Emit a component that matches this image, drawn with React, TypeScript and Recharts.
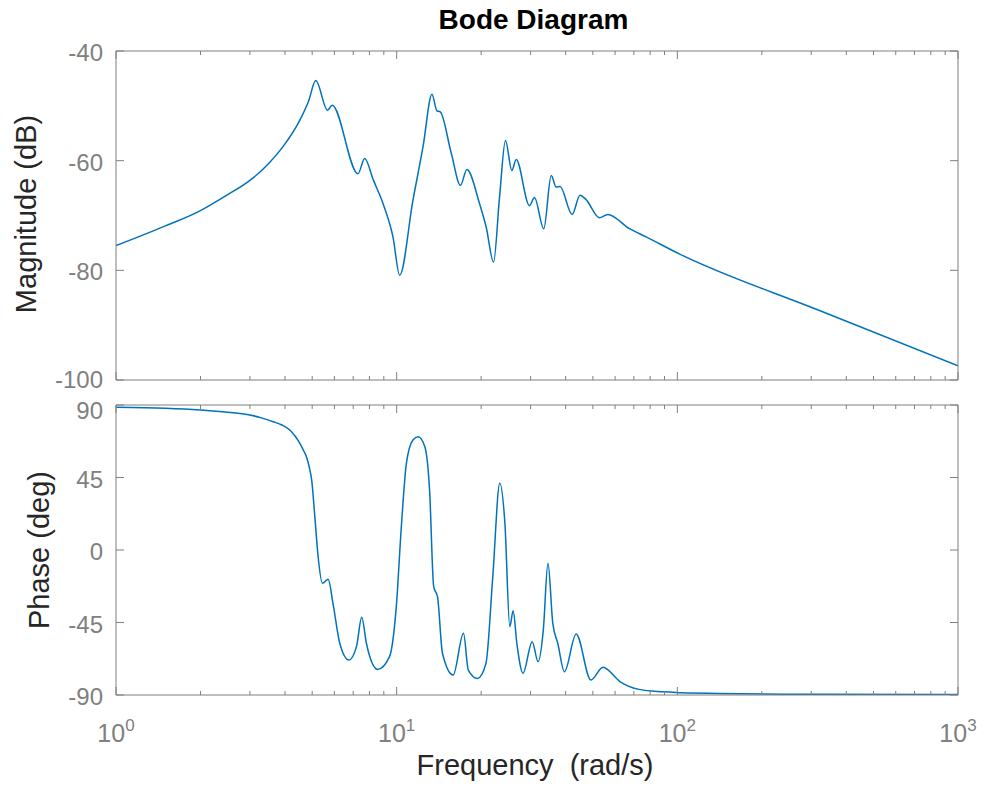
import React from 'react';
import { LineChart, Line, XAxis, YAxis } from 'recharts';

// magnitude response
const magFreq = [
  1, 1.5, 2, 2.5, 3, 3.5, 3.94, 4.52, 4.85, 5.15, 5.67, 5.89, 7.28, 7.69, 8.27, 8.94,
  9.7, 10.25, 11.43, 12.41, 13.36, 13.91, 14.3, 15.66, 16.88, 17.79, 19.73, 20.84,
  22.14, 23.26, 24.42, 25.72, 26.66, 29.73, 30.97, 33.43, 35.54, 37.0, 38.2, 42.2,
  45.0, 47.3, 52.8, 56.5, 67.5, 77.4, 101.6, 316, 1000,
];
const magDb = [
  -75.5, -71.9, -69.1, -66.2, -63.6, -60.5, -57.4, -52.6, -49.2, -45.4, -50.8, -49.9,
  -62.4, -59.6, -63.6, -67.8, -73.9, -80.9, -67.2, -57.5, -47.9, -50.9, -51.1, -58.7,
  -64.5, -61.6, -67.8, -72.1, -78.5, -66.6, -56.3, -61.8, -59.8, -68.2, -66.7, -72.4,
  -62.7, -64.8, -64.7, -69.8, -66.3, -67.1, -70.4, -69.8, -72.4, -73.9, -77.0, -87.2,
  -97.4,
];

// phase response
const phaseFreq = [
  1, 1.5, 1.99, 3.0, 3.3, 3.63, 3.9, 4.16, 4.35, 4.52, 4.65, 4.77, 4.88, 4.98, 5.11,
  5.25, 5.44, 5.7, 5.93, 6.27, 6.76, 7.19, 7.51, 7.8, 8.56, 9.43, 9.95, 10.41, 10.83,
  11.43, 11.92, 12.6, 13.1, 13.55, 13.98, 14.56, 15.9, 17.3, 18.0, 19.4, 20.8, 22.0,
  23.3, 24.3, 25.3, 26.0, 26.8, 28.2, 30.4, 31.9, 33.3, 34.6, 36.0, 37.5, 39.6, 43.6,
  49.2, 54.3, 62.6, 73.0, 88.9, 101.6, 300, 1000,
];
const phaseDeg = [
  88.6, 88.0, 86.9, 83.8, 82.0, 79.6, 77.6, 74.5, 70.6, 66.2, 62.0, 57.9, 51.5, 43.4,
  20.7, -4.2, -20.7, -18.2, -33.1, -57.9, -68.3, -60, -41.8, -57.9, -74.1, -66.2, -37,
  16.6, 53.8, 68.3, 70.3, 64.1, 37.2, -22.8, -29, -64.1, -77.6, -51.7, -74.5, -79.7,
  -70.4, -16.6, 41.4, 16.6, -47.6, -37.7, -57.9, -76.5, -56.9, -69.3, -49.7, -8.3,
  -45.5, -57.9, -75.5, -52.1, -80.7, -72.8, -81.8, -86.5, -88.0, -88.6, -89.5, -89.7,
];

const freqTicks = [
  1, 2, 3, 4, 5, 6, 7, 8, 9,
  10, 20, 30, 40, 50, 60, 70, 80, 90,
  100, 200, 300, 400, 500, 600, 700, 800, 900, 1000,
];
const magTicks = [-100, -80, -60, -40];
const phaseTicks = [-90, -45, 0, 45, 90];

const magData = magFreq.map((w, i) => ({ w, v: magDb[i] }));
const phaseData = phaseFreq.map((w, i) => ({ w, v: phaseDeg[i] }));

const AXIS = '#7f7f7f';
const TICK_TEXT = '#808080';
const LABEL = '#262626';
const LINE = '#0072BD';
const FONT = '"Liberation Sans", Arial, Helvetica, sans-serif';

const isDecade = (v: number) =>
  Math.abs(Math.log10(v) - Math.round(Math.log10(v))) < 1e-9;

// x ticks point into the box; only the decades get a label
const FreqTick = ({ x, y, payload, side, showLabel }: any) => {
  const v = payload.value;
  const major = isDecade(v);
  const len = major ? 8 : 4;
  const dir = side === 'top' ? 1 : -1;
  return (
    <g>
      <line x1={x} y1={y} x2={x} y2={y + dir * len} stroke={AXIS} strokeWidth={1} />
      {showLabel && major && (
        <text x={x} y={y + 47} textAnchor="middle" fill={TICK_TEXT} fontSize={25} fontFamily={FONT}>
          <tspan>10</tspan>
          <tspan dy={-11} fontSize={17}>{Math.round(Math.log10(v))}</tspan>
        </text>
      )}
    </g>
  );
};

const ValueTick = ({ x, y, payload, side, labelDy }: any) => {
  const dir = side === 'right' ? -1 : 1;
  return (
    <g>
      <line x1={x} y1={y} x2={x + dir * 8} y2={y} stroke={AXIS} strokeWidth={1} />
      {side === 'left' && (
        <text
          x={x - 13}
          y={y + labelDy(payload.value)}
          textAnchor="end"
          fill={TICK_TEXT}
          fontSize={24}
          fontFamily={FONT}
        >
          {payload.value}
        </text>
      )}
    </g>
  );
};

const Panel = ({ data, yDomain, yTicks, height, margin, bottomHeight, showLabels, labelDy }: any) => (
  <LineChart width={984} height={height} data={data} margin={margin}>
    <XAxis
      xAxisId="b"
      dataKey="w"
      type="number"
      scale="log"
      domain={[1, 1000]}
      ticks={freqTicks}
      interval={0}
      allowDataOverflow
      height={bottomHeight}
      axisLine={{ stroke: AXIS }}
      tickLine={false}
      tickSize={0}
      tickMargin={0}
      tick={(p: any) => <FreqTick {...p} side="bottom" showLabel={showLabels} />}
    />
    <XAxis
      xAxisId="t"
      orientation="top"
      dataKey="w"
      type="number"
      scale="log"
      domain={[1, 1000]}
      ticks={freqTicks}
      interval={0}
      allowDataOverflow
      height={1}
      axisLine={{ stroke: AXIS }}
      tickLine={false}
      tickSize={0}
      tickMargin={0}
      tick={(p: any) => <FreqTick {...p} side="top" />}
    />
    <YAxis
      yAxisId="l"
      type="number"
      domain={yDomain}
      ticks={yTicks}
      interval={0}
      allowDataOverflow
      width={116}
      axisLine={{ stroke: AXIS }}
      tickLine={false}
      tickSize={0}
      tickMargin={0}
      tick={(p: any) => <ValueTick {...p} side="left" labelDy={labelDy} />}
    />
    <YAxis
      yAxisId="r"
      orientation="right"
      type="number"
      domain={yDomain}
      ticks={yTicks}
      interval={0}
      allowDataOverflow
      width={1}
      axisLine={{ stroke: AXIS }}
      tickLine={false}
      tickSize={0}
      tickMargin={0}
      tick={(p: any) => <ValueTick {...p} side="right" />}
    />
    <Line
      xAxisId="b"
      yAxisId="l"
      dataKey="v"
      type="monotone"
      stroke={LINE}
      strokeWidth={1.5}
      dot={false}
      isAnimationActive={false}
    />
  </LineChart>
);

export default function App() {
  return (
    <div style={{ position: 'absolute', left: 0, top: 0, width: 984, height: 787, background: '#fff' }}>
      <div style={{ position: 'absolute', left: 0, top: 0 }}>
        <Panel
          data={magData}
          yDomain={[-100, -40]}
          yTicks={magTicks}
          height={400}
          margin={{ top: 50, right: 25, bottom: 0, left: 0 }}
          bottomHeight={20}
          showLabels={false}
          labelDy={(v: number) => (v === -100 ? 8 : 10)}
        />
      </div>
      <div style={{ position: 'absolute', left: 0, top: 390 }}>
        <Panel
          data={phaseData}
          yDomain={[-90, 90]}
          yTicks={phaseTicks}
          height={397}
          margin={{ top: 14, right: 25, bottom: 0, left: 0 }}
          bottomHeight={92}
          showLabels
          labelDy={(v: number) => (v === 90 ? 14 : 10)}
        />
      </div>
      <svg
        width={984}
        height={787}
        style={{ position: 'absolute', left: 0, top: 0, pointerEvents: 'none' }}
      >
        <text x={533.5} y={29} textAnchor="middle" fontSize={28} fontWeight="bold" fill="#000" fontFamily={FONT}>
          Bode Diagram
        </text>
        <text transform="translate(36,214) rotate(-90)" textAnchor="middle" fontSize={29} fill={LABEL} fontFamily={FONT}>
          Magnitude (dB)
        </text>
        <text transform="translate(48.5,550) rotate(-90)" textAnchor="middle" fontSize={29} fill={LABEL} fontFamily={FONT}>
          Phase (deg)
        </text>
        <text x={535} y={775} textAnchor="middle" fontSize={29} fill={LABEL} fontFamily={FONT} xmlSpace="preserve">
          Frequency  (rad/s)
        </text>
      </svg>
    </div>
  );
}
